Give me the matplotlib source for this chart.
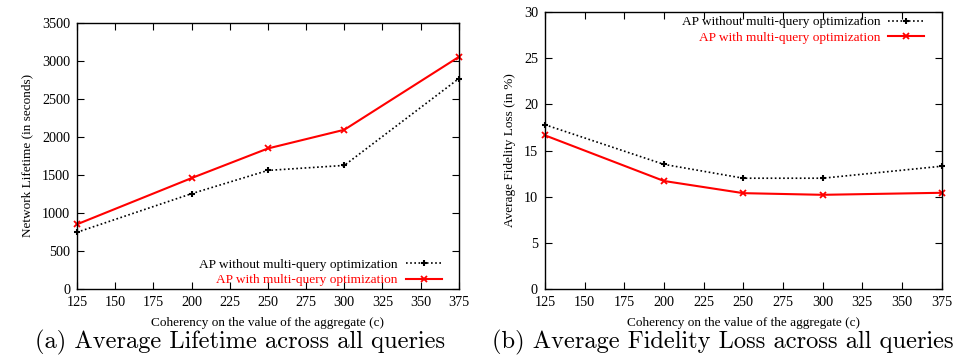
import matplotlib
matplotlib.use("Agg")
import matplotlib.pyplot as plt

coherency = [125, 200, 250, 300, 375]
xticks = [125, 150, 175, 200, 225, 250, 275, 300, 325, 350, 375]

lifetime_without = [745, 1253, 1559, 1625, 2768]
lifetime_with = [850, 1458, 1848, 2094, 3053]

fidelity_without = [17.8, 13.5, 12.0, 12.0, 13.3]
fidelity_with = [16.65, 11.7, 10.38, 10.2, 10.42]

label_without = "AP without multi-query optimization"
label_with = "AP with multi-query optimization"
xlabel = "Coherency on the value of the aggregate (c)"

plt.rcParams["font.family"] = ["Liberation Serif", "DejaVu Serif"]

fig = plt.figure(figsize=(9.56, 3.58), dpi=100)
ax1 = fig.add_axes([0.0805, 0.193, 0.3995, 0.743])
ax2 = fig.add_axes([0.570, 0.193, 0.415, 0.773])


def style(ax, ylim, yticks, ylabel):
    ax.set_xlim(125, 375)
    ax.set_ylim(*ylim)
    ax.set_xticks(xticks)
    ax.set_yticks(yticks)
    ax.tick_params(direction="in", top=True, right=True, length=5,
                   width=0.8, labelsize=10.2, pad=5)
    for s in ax.spines.values():
        s.set_linewidth(1.0)
    ax.set_xlabel(xlabel, fontsize=9.5, labelpad=6)
    ax.set_ylabel(ylabel, fontsize=9.5, labelpad=6)


def draw(ax, without, with_):
    ax.plot(coherency, without, color="black", linestyle=(0, (1, 1.5)),
            linewidth=1.2, marker="+", markersize=4.5, markeredgewidth=1.5,
            label=label_without, clip_on=False)
    ax.plot(coherency, with_, color="#ff0000", linestyle="-",
            linewidth=1.5, marker="x", markersize=4.5, markeredgewidth=1.3,
            label=label_with, clip_on=False)


legend_kw = dict(frameon=False, markerfirst=False, labelcolor="linecolor",
                 fontsize=9.6, handlelength=2.7, handletextpad=0.6,
                 labelspacing=0.25, borderpad=0.2)

draw(ax1, lifetime_without, lifetime_with)
style(ax1, (0, 3500), range(0, 3501, 500), "Network Lifetime (in seconds)")
ax1.legend(loc="lower right", bbox_to_anchor=(0.98, -0.025), **legend_kw)

draw(ax2, fidelity_without, fidelity_with)
style(ax2, (0, 30), range(0, 31, 5), "Average Fidelity Loss (in %)")
ax2.legend(loc="upper right", bbox_to_anchor=(0.98, 1.02), **legend_kw)

cap_font = dict(fontsize=17.6, family=["cmr10", "DejaVu Serif"])
fig.text(0.251, 0.008, "(a) Average Lifetime across all queries",
         ha="center", va="bottom", **cap_font)
fig.text(0.756, 0.008, "(b) Average Fidelity Loss across all queries",
         ha="center", va="bottom", **cap_font)

fig.savefig("out.png", dpi=100)
